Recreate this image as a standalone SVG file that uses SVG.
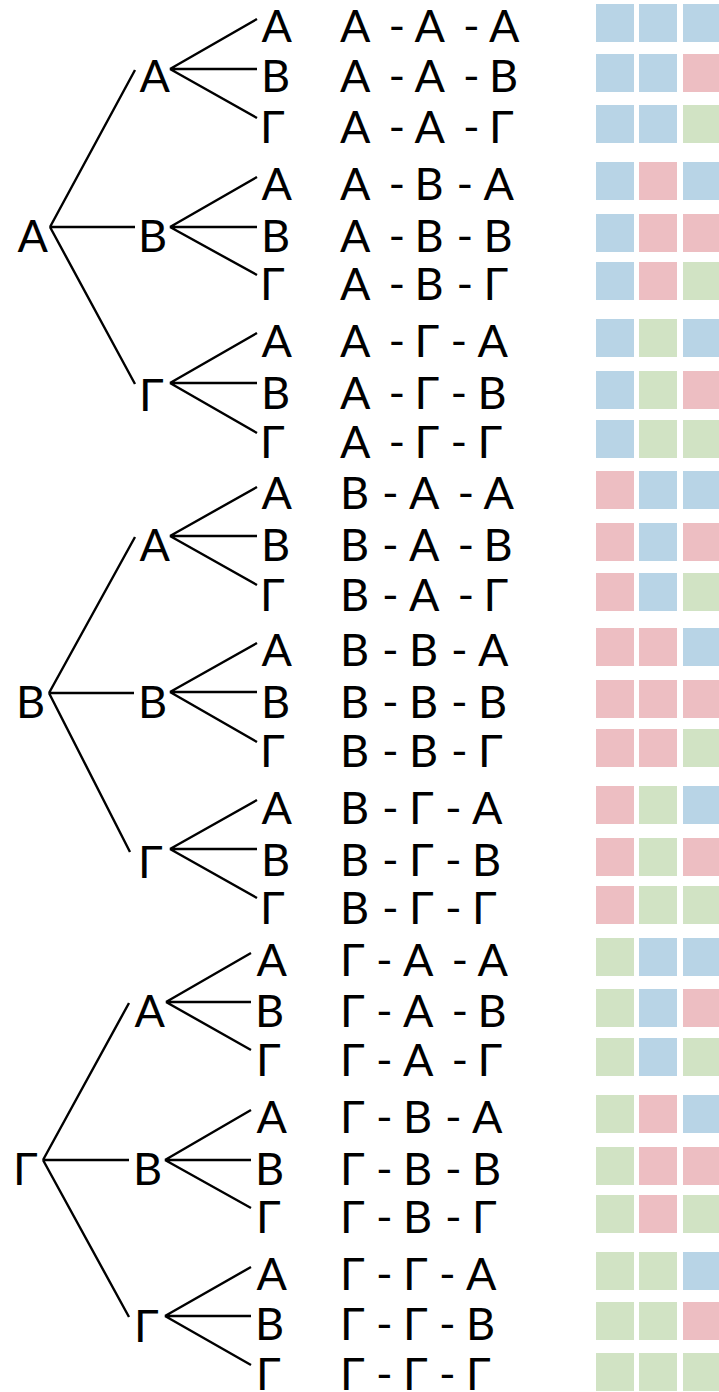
<svg xmlns="http://www.w3.org/2000/svg" width="719" height="1392" viewBox="0 0 719 1392">
<style>
text{font-family:Lato,"Noto Sans","DejaVu Sans",sans-serif;font-size:45px;fill:#000}
.c path{stroke:#000;stroke-width:2.4;fill:none;stroke-linecap:butt}
.a{fill:#b8d4e6}.b{fill:#edbec2}.g{fill:#d1e3c4}
</style>
<rect width="719" height="1392" fill="#fff"/>
<g id="connectors" class="c">
<path d="M50,227L135,70M50,227L135,227M50,227L135,384"/>
<path d="M170,69L257,19M170,69L257,69M170,69L257,118"/>
<path d="M170,227L257,177M170,227L257,227M170,227L257,275"/>
<path d="M170,383L257,333M170,383L257,383M170,383L257,433"/>
<path d="M49,693L135,537M49,693L134,693M49,693L130,852"/>
<path d="M170,536L257,487M170,536L257,536M170,536L257,585"/>
<path d="M170,692L257,643M170,692L257,692M170,692L257,742"/>
<path d="M170,849L257,800M170,849L257,849M170,849L257,898"/>
<path d="M43,1160L129,1003M43,1160L129,1160M43,1160L129,1317"/>
<path d="M166,1002L251,953M166,1002L251,1002M166,1002L251,1050"/>
<path d="M165,1160L251,1110M165,1160L251,1160M165,1160L251,1208"/>
<path d="M165,1316L251,1267M165,1316L251,1316M165,1316L251,1365"/>
</g>
<g id="roots">
<text id="root-A" x="17.5" y="252">Α</text>
<text id="root-B" x="16" y="718">Β</text>
<text id="root-G" x="13" y="1185">Γ</text>
</g>
<g id="level2">
<text id="m-AA" x="139.5" y="92">Α</text>
<text id="m-AB" x="138" y="252">Β</text>
<text id="m-AG" x="139" y="411">Γ</text>
<text id="m-BA" x="139.5" y="561">Α</text>
<text id="m-BB" x="138" y="718">Β</text>
<text id="m-BG" x="138" y="878">Γ</text>
<text id="m-GA" x="134.5" y="1027">Α</text>
<text id="m-GB" x="133" y="1185">Β</text>
<text id="m-GG" x="134" y="1342">Γ</text>
</g>
<g id="leaves">
<text x="261.5" y="42">Α</text><text x="261" y="92">Β</text><text x="260" y="143">Γ</text>
<text x="261.5" y="200">Α</text><text x="261" y="252">Β</text><text x="260" y="300">Γ</text>
<text x="261.5" y="357">Α</text><text x="261" y="409">Β</text><text x="260" y="458">Γ</text>
<text x="261.5" y="509">Α</text><text x="261" y="561">Β</text><text x="260" y="611">Γ</text>
<text x="261.5" y="666">Α</text><text x="261" y="718">Β</text><text x="260" y="767">Γ</text>
<text x="261.5" y="824">Α</text><text x="261" y="876">Β</text><text x="260" y="924">Γ</text>
<text x="256.5" y="976">Α</text><text x="255" y="1027">Β</text><text x="256" y="1076">Γ</text>
<text x="256.5" y="1133">Α</text><text x="255" y="1185">Β</text><text x="256" y="1233">Γ</text>
<text x="256.5" y="1290">Α</text><text x="255" y="1340">Β</text><text x="256" y="1390">Γ</text>
</g>
<g id="sequences">
<text x="340 375 388.5 400 414.5 450 463 475 489" y="42">Α - Α - Α</text>
<text x="340 375 388.5 400 414.5 450 463 475 489" y="92">Α - Α - Β</text>
<text x="340 375 388.5 400 414.5 450 463 475 489" y="143">Α - Α - Γ</text>
<text x="340 375 388.5 400 414.5 445 456.5 470 483.5" y="200">Α - Β - Α</text>
<text x="340 375 388.5 400 414.5 445 456.5 470 483.5" y="252">Α - Β - Β</text>
<text x="340 375 388.5 400 414.5 445 456.5 470 483.5" y="300">Α - Β - Γ</text>
<text x="340 375 388.5 400 414.5 440 450.5 465 477.5" y="357">Α - Γ - Α</text>
<text x="340 375 388.5 400 414.5 440 450.5 465 477.5" y="409">Α - Γ - Β</text>
<text x="340 375 388.5 400 414.5 440 450.5 465 477.5" y="458">Α - Γ - Γ</text>
<text x="340 370 382 395 409 445 457.5 470 483.5" y="509">Β - Α - Α</text>
<text x="340 370 382 395 409 445 457.5 470 483.5" y="561">Β - Α - Β</text>
<text x="340 370 382 395 409 445 457.5 470 483.5" y="611">Β - Α - Γ</text>
<text x="340 370 382 395 409 440 451 465 478" y="666">Β - Β - Α</text>
<text x="340 370 382 395 409 440 451 465 478" y="718">Β - Β - Β</text>
<text x="340 370 382 395 409 440 451 465 478" y="767">Β - Β - Γ</text>
<text x="340 370 382 395 409 435 445 460 472" y="824">Β - Γ - Α</text>
<text x="340 370 382 395 409 435 445 460 472" y="876">Β - Γ - Β</text>
<text x="340 370 382 395 409 435 445 460 472" y="924">Β - Γ - Γ</text>
<text x="340 365 376 390 403 440 451.5 465 477.5" y="976">Γ - Α - Α</text>
<text x="340 365 376 390 403 440 451.5 465 477.5" y="1027">Γ - Α - Β</text>
<text x="340 365 376 390 403 440 451.5 465 477.5" y="1076">Γ - Α - Γ</text>
<text x="340 365 376 390 403 435 445 460 472" y="1133">Γ - Β - Α</text>
<text x="340 365 376 390 403 435 445 460 472" y="1185">Γ - Β - Β</text>
<text x="340 365 376 390 403 435 445 460 472" y="1233">Γ - Β - Γ</text>
<text x="340 365 376 390 403 430 439 455 466" y="1290">Γ - Γ - Α</text>
<text x="340 365 376 390 403 430 439 455 466" y="1340">Γ - Γ - Β</text>
<text x="340 365 376 390 403 430 439 455 466" y="1390">Γ - Γ - Γ</text>
</g>
<g id="swatches">
<rect class="a" x="596" y="4" width="38" height="38"/><rect class="a" x="639" y="4" width="38" height="38"/><rect class="a" x="683" y="4" width="38" height="38"/>
<rect class="a" x="596" y="54" width="38" height="38"/><rect class="a" x="639" y="54" width="38" height="38"/><rect class="b" x="683" y="54" width="38" height="38"/>
<rect class="a" x="596" y="105" width="38" height="38"/><rect class="a" x="639" y="105" width="38" height="38"/><rect class="g" x="683" y="105" width="38" height="38"/>
<rect class="a" x="596" y="162" width="38" height="38"/><rect class="b" x="639" y="162" width="38" height="38"/><rect class="a" x="683" y="162" width="38" height="38"/>
<rect class="a" x="596" y="214" width="38" height="38"/><rect class="b" x="639" y="214" width="38" height="38"/><rect class="b" x="683" y="214" width="38" height="38"/>
<rect class="a" x="596" y="262" width="38" height="38"/><rect class="b" x="639" y="262" width="38" height="38"/><rect class="g" x="683" y="262" width="38" height="38"/>
<rect class="a" x="596" y="319" width="38" height="38"/><rect class="g" x="639" y="319" width="38" height="38"/><rect class="a" x="683" y="319" width="38" height="38"/>
<rect class="a" x="596" y="371" width="38" height="38"/><rect class="g" x="639" y="371" width="38" height="38"/><rect class="b" x="683" y="371" width="38" height="38"/>
<rect class="a" x="596" y="420" width="38" height="38"/><rect class="g" x="639" y="420" width="38" height="38"/><rect class="g" x="683" y="420" width="38" height="38"/>
<rect class="b" x="596" y="471" width="38" height="38"/><rect class="a" x="639" y="471" width="38" height="38"/><rect class="a" x="683" y="471" width="38" height="38"/>
<rect class="b" x="596" y="523" width="38" height="38"/><rect class="a" x="639" y="523" width="38" height="38"/><rect class="b" x="683" y="523" width="38" height="38"/>
<rect class="b" x="596" y="573" width="38" height="38"/><rect class="a" x="639" y="573" width="38" height="38"/><rect class="g" x="683" y="573" width="38" height="38"/>
<rect class="b" x="596" y="628" width="38" height="38"/><rect class="b" x="639" y="628" width="38" height="38"/><rect class="a" x="683" y="628" width="38" height="38"/>
<rect class="b" x="596" y="680" width="38" height="38"/><rect class="b" x="639" y="680" width="38" height="38"/><rect class="b" x="683" y="680" width="38" height="38"/>
<rect class="b" x="596" y="729" width="38" height="38"/><rect class="b" x="639" y="729" width="38" height="38"/><rect class="g" x="683" y="729" width="38" height="38"/>
<rect class="b" x="596" y="786" width="38" height="38"/><rect class="g" x="639" y="786" width="38" height="38"/><rect class="a" x="683" y="786" width="38" height="38"/>
<rect class="b" x="596" y="838" width="38" height="38"/><rect class="g" x="639" y="838" width="38" height="38"/><rect class="b" x="683" y="838" width="38" height="38"/>
<rect class="b" x="596" y="886" width="38" height="38"/><rect class="g" x="639" y="886" width="38" height="38"/><rect class="g" x="683" y="886" width="38" height="38"/>
<rect class="g" x="596" y="938" width="38" height="38"/><rect class="a" x="639" y="938" width="38" height="38"/><rect class="a" x="683" y="938" width="38" height="38"/>
<rect class="g" x="596" y="989" width="38" height="38"/><rect class="a" x="639" y="989" width="38" height="38"/><rect class="b" x="683" y="989" width="38" height="38"/>
<rect class="g" x="596" y="1038" width="38" height="38"/><rect class="a" x="639" y="1038" width="38" height="38"/><rect class="g" x="683" y="1038" width="38" height="38"/>
<rect class="g" x="596" y="1095" width="38" height="38"/><rect class="b" x="639" y="1095" width="38" height="38"/><rect class="a" x="683" y="1095" width="38" height="38"/>
<rect class="g" x="596" y="1147" width="38" height="38"/><rect class="b" x="639" y="1147" width="38" height="38"/><rect class="b" x="683" y="1147" width="38" height="38"/>
<rect class="g" x="596" y="1195" width="38" height="38"/><rect class="b" x="639" y="1195" width="38" height="38"/><rect class="g" x="683" y="1195" width="38" height="38"/>
<rect class="g" x="596" y="1252" width="38" height="38"/><rect class="g" x="639" y="1252" width="38" height="38"/><rect class="a" x="683" y="1252" width="38" height="38"/>
<rect class="g" x="596" y="1302" width="38" height="38"/><rect class="g" x="639" y="1302" width="38" height="38"/><rect class="b" x="683" y="1302" width="38" height="38"/>
<rect class="g" x="596" y="1353" width="38" height="38"/><rect class="g" x="639" y="1353" width="38" height="38"/><rect class="g" x="683" y="1353" width="38" height="38"/>
</g>
</svg>
